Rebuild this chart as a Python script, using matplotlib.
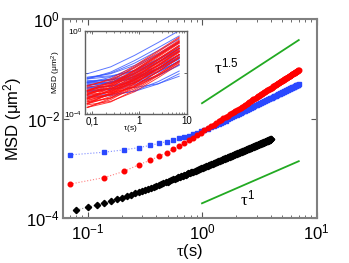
import matplotlib
matplotlib.use("Agg")
import matplotlib.pyplot as plt
import numpy as np
from matplotlib.ticker import LogLocator, NullFormatter

plt.rcParams['font.family'] = 'Liberation Sans'
plt.rcParams['mathtext.fontset'] = 'custom'
plt.rcParams['mathtext.rm'] = 'Liberation Sans'
plt.rcParams['mathtext.it'] = 'Liberation Serif'
plt.rcParams['mathtext.default'] = 'regular'

# lag times: blue/red sampled every 0.07 s, black every 0.02 s
tau_br = np.arange(1, 101) * 0.07
tau_k = np.arange(4, 201) * 0.02

# MSD of the blue series (units 1e-3 um^2)
msd_blue = [1.87, 2.12, 2.37, 2.62, 2.90, 3.18, 3.46, 3.74, 4.02, 4.30,
            4.58, 4.86, 5.22, 5.58, 5.94, 6.30, 6.66, 7.02, 7.38, 7.74,
            8.22, 8.70, 9.18, 9.66, 10.14, 10.62, 11.10, 11.58, 12.06, 12.54,
            13.02, 13.50, 13.98, 14.46, 14.94, 15.42, 15.90, 16.38, 16.88, 17.38,
            17.88, 18.38, 18.88, 19.38, 19.88, 20.38, 20.88, 21.38, 21.88, 22.38,
            22.88, 23.38, 23.88, 24.38, 24.88, 25.38, 25.88, 26.38, 26.88, 27.38,
            27.92, 28.46, 29.00, 29.54, 30.08, 30.62, 31.16, 31.70, 32.24, 32.78,
            33.32, 33.86, 34.40, 34.94, 35.48, 36.02, 36.56, 37.10, 37.64, 38.18,
            38.72, 39.26, 39.80, 40.34, 40.88, 41.42, 41.96, 42.50, 43.04, 43.58,
            44.12, 44.66, 45.20, 45.74, 46.28, 46.82, 47.36, 47.90, 48.44, 48.98]

# MSD of the red series (units 1e-3 um^2)
msd_red = [0.485, 0.657, 0.881, 1.19, 1.45, 1.76, 2.08, 2.44, 2.82, 3.24,
           3.68, 4.17, 4.69, 5.24, 5.80, 6.38, 6.97, 7.59, 8.22, 8.84,
           9.48, 10.14, 10.81, 11.50, 12.20, 12.92, 13.65, 14.39, 15.15, 15.92,
           16.70, 17.50, 18.30, 19.12, 19.96, 20.80, 21.66, 22.53, 23.41, 24.30,
           25.20, 26.11, 27.04, 27.97, 28.92, 29.87, 30.84, 31.82, 32.80, 33.80,
           34.81, 35.83, 36.85, 37.89, 38.94, 39.99, 41.06, 42.13, 43.22, 44.31,
           45.41, 46.52, 47.65, 48.77, 49.91, 51.06, 52.22, 53.38, 54.55, 55.74,
           56.93, 58.12, 59.33, 60.55, 61.77, 63.00, 64.24, 65.49, 66.74, 68.01,
           69.28, 70.56, 71.85, 73.14, 74.45, 75.76, 77.07, 78.40, 79.73, 81.08,
           82.42, 83.78, 85.14, 86.51, 87.89, 89.28, 90.67, 92.07, 93.48, 94.89]

# MSD of the black series (units 1e-4 um^2)
msd_black = [1.47, 1.66, 1.85, 2.04, 2.23, 2.42, 2.61, 2.80, 2.99, 3.18,
             3.37, 3.56, 3.75, 3.94, 4.13, 4.32, 4.51, 4.70, 4.89, 5.08,
             5.27, 5.46, 5.65, 5.84, 6.03, 6.22, 6.41, 6.60, 6.79, 6.98,
             7.17, 7.36, 7.55, 7.74, 7.93, 8.12, 8.31, 8.50, 8.69, 8.88,
             9.07, 9.26, 9.45, 9.64, 9.83, 10.02, 10.21, 10.40, 10.59, 10.78,
             10.97, 11.16, 11.35, 11.54, 11.73, 11.92, 12.11, 12.30, 12.49, 12.68,
             12.87, 13.06, 13.25, 13.44, 13.63, 13.82, 14.01, 14.20, 14.39, 14.58,
             14.77, 14.96, 15.15, 15.34, 15.53, 15.72, 15.91, 16.10, 16.29, 16.48,
             16.67, 16.86, 17.05, 17.24, 17.43, 17.62, 17.81, 18.00, 18.19, 18.38,
             18.57, 18.76, 18.95, 19.14, 19.33, 19.52, 19.71, 19.90, 20.09, 20.28,
             20.47, 20.66, 20.85, 21.04, 21.23, 21.42, 21.61, 21.80, 21.99, 22.18,
             22.37, 22.56, 22.75, 22.94, 23.13, 23.32, 23.51, 23.70, 23.89, 24.08,
             24.27, 24.46, 24.65, 24.84, 25.03, 25.22, 25.41, 25.60, 25.79, 25.98,
             26.17, 26.36, 26.55, 26.74, 26.93, 27.12, 27.31, 27.50, 27.69, 27.88,
             28.07, 28.26, 28.45, 28.64, 28.83, 29.02, 29.21, 29.40, 29.59, 29.78,
             29.97, 30.16, 30.35, 30.54, 30.73, 30.92, 31.11, 31.30, 31.49, 31.68,
             31.87, 32.06, 32.25, 32.44, 32.63, 32.82, 33.01, 33.20, 33.39, 33.58,
             33.77, 33.96, 34.15, 34.34, 34.53, 34.72, 34.91, 35.10, 35.29, 35.48,
             35.67, 35.86, 36.05, 36.24, 36.43, 36.62, 36.81, 37.00, 37.19, 37.38,
             37.57, 37.76, 37.95, 38.14, 38.33, 38.52, 38.71]

# guide lines tau^1.5 and tau^1
guide_tau = [1.0, 7.0]
guide_15 = [0.0204, 0.378]
guide_1 = [2.0e-4, 1.4e-3]

# inset: individual trajectories, log10(MSD) at these lag times
inset_tau = [0.08, 0.25, 0.8, 2.5, 7.0]
inset_blue = [
    [-2.06, -1.73, -1.18, -0.57, 0.00],
    [-2.23, -2.06, -1.66, -1.10, -0.54],
    [-2.31, -2.20, -1.89, -1.38, -0.84],
    [-2.29, -2.03, -1.55, -0.96, -0.40],
    [-2.43, -2.36, -2.13, -1.69, -1.18],
    [-2.46, -2.35, -2.04, -1.53, -0.99],
    [-2.49, -2.45, -2.30, -1.95, -1.46],
    [-2.48, -2.31, -1.91, -1.35, -0.79],
    [-2.58, -2.51, -2.28, -1.84, -1.33],
    [-2.49, -2.23, -1.75, -1.16, -0.60],
    [-2.61, -2.50, -2.19, -1.68, -1.14],
    [-2.69, -2.65, -2.50, -2.15, -1.66],
    [-2.63, -2.46, -2.06, -1.50, -0.94],
    [-2.73, -2.66, -2.43, -1.99, -1.48],
    [-2.76, -2.65, -2.34, -1.83, -1.29],
    [-2.80, -2.78, -2.72, -2.54, -2.18],
    [-2.74, -2.48, -2.00, -1.41, -0.85],
    [-2.88, -2.81, -2.58, -2.14, -1.63],
    [-2.91, -2.80, -2.49, -1.98, -1.44],
    [-2.93, -2.76, -2.36, -1.80, -1.24],
    [-3.09, -3.05, -2.90, -2.55, -2.06],
    [-2.23, -2.16, -1.93, -1.49, -0.98],
    [-2.39, -2.35, -2.20, -1.85, -1.36],
    [-2.31, -1.98, -1.43, -0.82, -0.25],
    [-3.18, -3.11, -2.88, -2.44, -1.93],
    [-2.53, -2.46, -2.23, -1.79, -1.28],
]
inset_red = [
    [-2.62, -2.36, -1.79, -1.11, -0.45],
    [-2.66, -2.30, -1.68, -0.96, -0.30],
    [-2.80, -2.63, -2.17, -1.50, -0.85],
    [-2.87, -2.76, -2.39, -1.78, -1.14],
    [-2.87, -2.61, -2.04, -1.36, -0.70],
    [-2.86, -2.50, -1.88, -1.16, -0.50],
    [-2.95, -2.78, -2.32, -1.65, -1.00],
    [-3.03, -2.97, -2.70, -2.15, -1.54],
    [-3.02, -2.76, -2.19, -1.51, -0.85],
    [-2.88, -2.43, -1.74, -1.02, -0.35],
    [-3.10, -2.93, -2.47, -1.80, -1.15],
    [-3.06, -2.70, -2.08, -1.36, -0.70],
    [-3.17, -3.06, -2.69, -2.08, -1.44],
    [-3.17, -2.91, -2.34, -1.66, -1.00],
    [-3.25, -3.08, -2.62, -1.95, -1.30],
    [-3.08, -2.63, -1.94, -1.22, -0.55],
    [-3.21, -2.85, -2.23, -1.51, -0.85],
    [-3.32, -3.06, -2.49, -1.81, -1.15],
    [-3.40, -3.23, -2.77, -2.10, -1.45],
    [-3.28, -2.83, -2.14, -1.42, -0.75],
    [-3.36, -3.00, -2.38, -1.66, -1.00],
    [-3.47, -3.21, -2.64, -1.96, -1.30],
    [-3.25, -2.71, -2.00, -1.27, -0.60],
    [-3.55, -3.38, -2.92, -2.25, -1.60],
    [-3.51, -3.15, -2.53, -1.81, -1.15],
    [-3.48, -3.03, -2.34, -1.62, -0.95],
    [-3.67, -3.41, -2.84, -2.16, -1.50],
    [-3.66, -3.30, -2.68, -1.96, -1.30],
    [-3.50, -2.96, -2.25, -1.52, -0.85],
    [-3.68, -3.23, -2.54, -1.82, -1.15],
    [-2.70, -2.53, -2.07, -1.40, -0.75],
    [-2.91, -2.55, -1.93, -1.21, -0.55],
    [-3.26, -2.90, -2.28, -1.56, -0.90],
    [-2.97, -2.86, -2.49, -1.88, -1.24],
    [-3.03, -2.58, -1.89, -1.17, -0.50],
    [-3.41, -3.05, -2.43, -1.71, -1.05],
]

W, H = 349, 263
fig = plt.figure(figsize=(W / 100, H / 100), dpi=100)
fig.patch.set_facecolor('white')

ax = fig.add_axes([62.7 / W, 1 - 218.3 / H, 253.8 / W, 199.3 / H])
ax.set_xscale('log')
ax.set_yscale('log')

c_blue = '#2a48ff'
c_red = '#ff0000'
ax.plot(tau_br, np.array(msd_blue) * 1e-3, ':', color='#7f8cff', lw=0.8,
        marker='s', ms=3.0, mfc=c_blue, mec=c_blue)
ax.plot(tau_br, np.array(msd_red) * 1e-3, ':', color='#ff8080', lw=0.8,
        marker='o', ms=3.3, mfc=c_red, mec=c_red)
ax.plot(tau_k, np.array(msd_black) * 1e-4, ':', color='#999999', lw=0.8,
        marker='D', ms=3.2, mfc='black', mec='black')

ax.plot(guide_tau, guide_15, color='#22aa22', lw=1.3)
ax.plot(guide_tau, guide_1, color='#22aa22', lw=1.3)
ax.text(1.27, 0.0828, r'$\mathit{\tau}^{1.5}$', fontsize=12, ha='left', va='baseline')
ax.text(2.15, 1.85e-4, r'$\mathit{\tau}^{1}$', fontsize=12, ha='left', va='baseline')

ax.set_xlim(0.0607, 10)
ax.set_ylim(1e-4, 1)
ax.set_xticks([0.1, 1, 10], labels=['$10^{-1}$', '$10^{0}$', '$10^{1}$'])
ax.set_yticks([1e-4, 1e-2, 1], labels=['$10^{-4}$', '$10^{-2}$', '$10^{0}$'])
ax.xaxis.set_minor_locator(LogLocator(base=10, subs=np.arange(2, 10)))
ax.xaxis.set_minor_formatter(NullFormatter())
ax.yaxis.set_minor_locator(plt.NullLocator())
ax.tick_params(which='both', direction='in', top=True, right=True,
               color='#555555', labelsize=12)
ax.tick_params(which='major', length=4, width=0.8)
ax.tick_params(which='minor', length=2, width=0.6)
ax.tick_params(axis='y', pad=2)
ax.tick_params(axis='x', pad=3)
for s in ax.spines.values():
    s.set_color('#808080')
    s.set_linewidth(1.5)
ax.set_xlabel(r'$\mathit{\tau}$(s)', fontsize=12, labelpad=0)
ax.set_ylabel(r'MSD ($\mu$m$^2$)', fontsize=12, labelpad=2)

# inset
axi = fig.add_axes([84.5 / W, 1 - 114.3 / H, 102 / W, 83.6 / H])
axi.set_xscale('log')
axi.set_yscale('log')
for row in inset_blue:
    axi.plot(inset_tau, 10 ** np.array(row), color='#3355ff', lw=0.7, alpha=0.8)
for row in inset_red:
    axi.plot(inset_tau, 10 ** np.array(row), color='#ff1010', lw=0.7, alpha=0.8)
axi.set_xlim(0.07, 10)
axi.set_ylim(1e-4, 1)
axi.set_xticks([0.1, 1, 10], labels=['0,1', '1', '10'])
axi.set_yticks([1e-4, 1e-2, 1], labels=['$10^{-4}$', '', '$10^{0}$'])
axi.xaxis.set_minor_locator(LogLocator(base=10, subs=np.arange(2, 10)))
axi.xaxis.set_minor_formatter(NullFormatter())
axi.yaxis.set_minor_locator(plt.NullLocator())
axi.tick_params(which='both', direction='in', top=True, right=True,
                color='#555555', pad=1.5)
axi.tick_params(axis='x', labelsize=7)
axi.tick_params(axis='y', labelsize=6)
axi.tick_params(which='major', length=2.5, width=0.6)
axi.tick_params(which='minor', length=1.2, width=0.5)
for s in axi.spines.values():
    s.set_color('#606060')
    s.set_linewidth(1.0)
axi.set_xlabel(r'$\mathit{\tau}$(s)', fontsize=6)
axi.xaxis.set_label_coords(0.45, -0.1)
axi.set_ylabel(r'MSD ($\mu$m$^2$)', fontsize=6, labelpad=1)

fig.savefig('out.png', dpi=100)
